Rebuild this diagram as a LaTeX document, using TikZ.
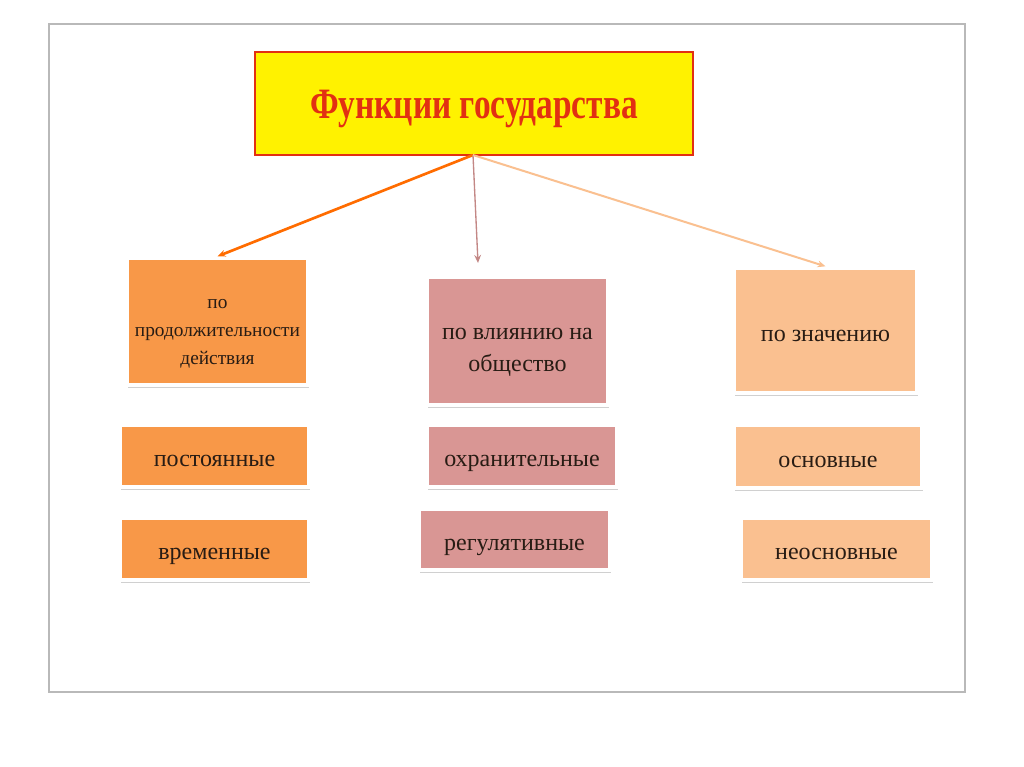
\documentclass[tikz,border=0pt]{standalone}
\usepackage{fontspec}
\setmainfont{Liberation Serif}
\usetikzlibrary{positioning,arrows.meta,shadows}
\definecolor{durfill}{RGB}{248,152,72}
\definecolor{inflfill}{RGB}{217,150,148}
\definecolor{sigfill}{RGB}{250,192,144}
\definecolor{titlered}{RGB}{226,48,18}
\definecolor{boxtext}{RGB}{40,28,20}

\begin{document}
\begin{tikzpicture}[
        x=0.75pt, y=-0.75pt,
        box/.style = {rectangle, draw=white, line width=2.5pt,
                      drop shadow={opacity=0.3, fill=black!60, shadow xshift=0.5pt, shadow yshift=-2.5pt},
                      text centered, align=center, text=boxtext,
                      font=\fontsize{18}{24}\selectfont, inner sep=0pt},
        oneline/.style = {text height=17pt, text depth=1pt},
        dur/.style  = {box, fill=durfill},
        infl/.style = {box, fill=inflfill},
        sig/.style  = {box, fill=sigfill},
        arr/.style  = {-{Stealth[length=6pt,width=5pt]}}
    ]
    \useasboundingbox (0,0) rectangle (1024,767);
    \fill[white] (0,0) rectangle (1024,767);
    \draw[gray!55, line width=1.5pt] (49,24) rectangle (965,692);

    \node[draw=titlered, line width=2pt, fill=yellow, minimum width=438*0.75pt, minimum height=103*0.75pt,
          font=\bfseries\fontsize{25}{30}\selectfont, text=titlered] (title) at (474,103.5)
          {\raisebox{0pt}[28pt][6pt]{\scalebox{1}[1.3]{Функции государства}}};

    % criteria
    \node[dur,  minimum width=181*0.75pt, minimum height=127*0.75pt, font=\fontsize{14.5}{21}\selectfont]
        (dur)  at (217.5,321.5) {\rule{0pt}{25pt}по\\продолжительности\\действия};
    \node[infl, minimum width=181*0.75pt, minimum height=128*0.75pt] (infl) at (517.5,341) {\rule{0pt}{25pt}по влиянию на\\общество};
    \node[sig, oneline, minimum width=183*0.75pt, minimum height=125*0.75pt] (sig)  at (825.5,330.5) {по значению};

    % kinds
    \node[dur,  oneline, minimum width=189*0.75pt, minimum height=62*0.75pt] (perm)    at (214.5,456)   {постоянные};
    \node[dur,  oneline, minimum width=189*0.75pt, minimum height=62*0.75pt] (temp)    at (214.5,549)   {временные};
    \node[infl, oneline, minimum width=190*0.75pt, minimum height=62*0.75pt] (prot)    at (522,456)     {охранительные};
    \node[infl, oneline, minimum width=191*0.75pt, minimum height=61*0.75pt] (reg)     at (514.5,539.5) {регулятивные};
    \node[sig,  oneline, minimum width=188*0.75pt, minimum height=63*0.75pt] (main)    at (828,456.5)   {основные};
    \node[sig,  oneline, minimum width=191*0.75pt, minimum height=62*0.75pt] (nonmain) at (836.5,549)   {неосновные};

    \coordinate (root) at (473,155);
    \coordinate (inflend) at (478,263);
    \draw[arr, color=orange!85!red, line width=2pt] (root) -- (dur.north);
    \draw[arr, color=inflfill!90!black, line width=1pt] (root) -- (inflend);
    \draw[arr, color=sigfill, line width=1.5pt] (root) -- (sig.north);
\end{tikzpicture}
\end{document}
